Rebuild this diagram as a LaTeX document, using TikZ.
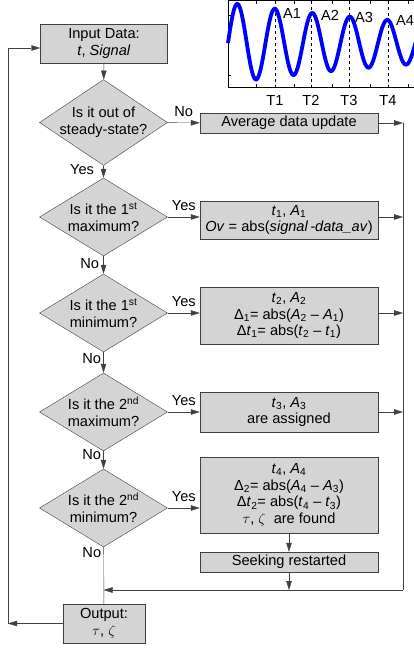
\documentclass[tikz,border=0pt]{standalone}
\usepackage{fontspec}
\setmainfont{Liberation Sans}
\usetikzlibrary{shapes.geometric,arrows.meta}
\definecolor{boxgray}{HTML}{D4D4D4}
\definecolor{linegray}{HTML}{404040}

\begin{document}
\begin{tikzpicture}[x=1pt,y=-1pt,font=\fontsize{14.6}{16.6}\selectfont]
    \tikzstyle{box}=[rectangle,draw=linegray,fill=boxgray,inner sep=1pt,minimum width=178pt,align=center]
    \tikzstyle{decision}=[diamond,draw=linegray,fill=boxgray,inner sep=-8pt,minimum width=128pt,minimum height=78pt,align=center]
    \tikzstyle{flow}=[draw=linegray,-{Triangle[length=9pt,width=5.5pt]}]
    \tikzstyle{plain}=[draw=linegray]
    \useasboundingbox (0,0) rectangle (414,648);
    % signal sketch
    \draw (228,0.5) -- (228,87) -- (430,87);
    \draw (228,0.5) -- (430,0.5);
    \foreach \y in {15,75} {\draw (228,\y) -- (231,\y);}
    \foreach \x in {256,294,332,370,408} {\draw (\x,0.5) -- (\x,3.5); \draw (\x,87) -- (\x,84);}
    \foreach \x/\n in {275/1,311/2,349/3,388/4} {
      \draw[dashed] (\x,0.5) -- (\x,87);
      \node at (\x,100) (T\n) {T\n};
    }
    \draw[blue,line width=3.8pt] plot[domain=228:420,samples=240,smooth]
      (\x,{43-40.3*exp(-0.0035*(\x-228))*sin((\x-228)/37.5*360)});
    \foreach \x/\y/\n in {292/13/1,330/15/2,364/17/3,405/20/4} {\node at (\x,\y) (A\n) {A\n};}
    % flow chart
    \node[box,minimum width=127pt,minimum height=39pt] at (104,43.5) (in) {Input Data:\\\textit{t}, \textit{Signal}};
    \node[decision] at (103.5,122.5) (d1) {Is it out of\\steady-state?};
    \node[decision] at (103.5,217) (d2) {Is it the 1\textsuperscript{st}\\maximum?};
    \node[decision] at (103.5,313) (d3) {Is it the 1\textsuperscript{st}\\minimum?};
    \node[decision] at (103.5,412) (d4) {Is it the 2\textsuperscript{nd}\\maximum?};
    \node[decision] at (103.5,508) (d5) {Is it the 2\textsuperscript{nd}\\minimum?};
    \node[box,minimum height=20pt] at (289,123) (b1) {Average data update};
    \node[box,minimum height=38pt] at (289,220) (b2) {\textit{t}\textsubscript{1}, \textit{A}\textsubscript{1}\\\textit{Ov} = abs(\textit{signal\,-data\_av})};
    \node[box,minimum height=57pt] at (289,315.5) (b3) {\textit{t}\textsubscript{2}, \textit{A}\textsubscript{2}\\Δ\textsubscript{1}= abs(\textit{A}\textsubscript{2} – \textit{A}\textsubscript{1})\\Δ\textit{t}\textsubscript{1}= abs(\textit{t}\textsubscript{2} – \textit{t}\textsubscript{1})};
    \node[box,minimum height=40pt] at (289,412) (b4) {\textit{t}\textsubscript{3}, \textit{A}\textsubscript{3}\\are assigned};
    \node[box,minimum height=76pt] at (289,495) (b5) {\textit{t}\textsubscript{4}, \textit{A}\textsubscript{4}\\Δ\textsubscript{2}= abs(\textit{A}\textsubscript{4} – \textit{A}\textsubscript{3})\\Δ\textit{t}\textsubscript{2}= abs(\textit{t}\textsubscript{4} – \textit{t}\textsubscript{3})\\$\tau$, $\zeta$~ are found};
    \node[box,minimum height=20pt] at (289,562) (b6) {Seeking restarted};
    \node[box,minimum width=82pt,minimum height=39pt] at (104,623.5) (out) {Output:\\$\tau$, $\zeta$};
    \coordinate (r1) at (403,123);
    \coordinate (r5) at (403,590);
    \coordinate (j) at (103.5,590);
    \coordinate (bj) at (289,590);
    \coordinate (ll) at (8,623.5);
    \coordinate (lu) at (8,48);
    % downwards
    \draw[flow] (in) -- (d1);
    \draw[flow] (d1) -- node[left=6pt,pos=.35]{Yes} (d2);
    \draw[flow] (d2) -- node[left=1pt,pos=.4]{No} (d3);
    \draw[flow] (d3) -- node[left=-1pt,pos=.3]{No} (d4);
    \draw[flow] (d4) -- node[left=-1pt,pos=.2]{No} (d5);
    \draw[plain] (d5) -- node[left=-1pt,pos=.1]{No} (out);
    % sideways
    \draw[flow] (d1) -- node[above=3pt]{No} (b1);
    \foreach \d/\b in {d2/b2,d3/b3,d4/b4,d5/b5}{
      \draw[flow] (\d.east) -- node[above=3pt]{Yes} (\d -| \b.west);
    }
    \draw[flow] (b1) -- (r1);
    \foreach \d/\b in {d2/b2,d3/b3,d4/b4}{
      \draw[flow] (\d -| \b.east) -- (\d -| r1);
    }
    \draw[plain] (r1) -- (r5);
    \draw[flow] (r5) -- (j);
    \draw[flow] (b5) -- (b6);
    \draw[flow] (b6) -- (bj);
    % back to the input
    \draw[flow] (out) -- (ll);
    \draw[flow] (ll) -- (lu) -- (lu -| in.west);
\end{tikzpicture}
\end{document}
